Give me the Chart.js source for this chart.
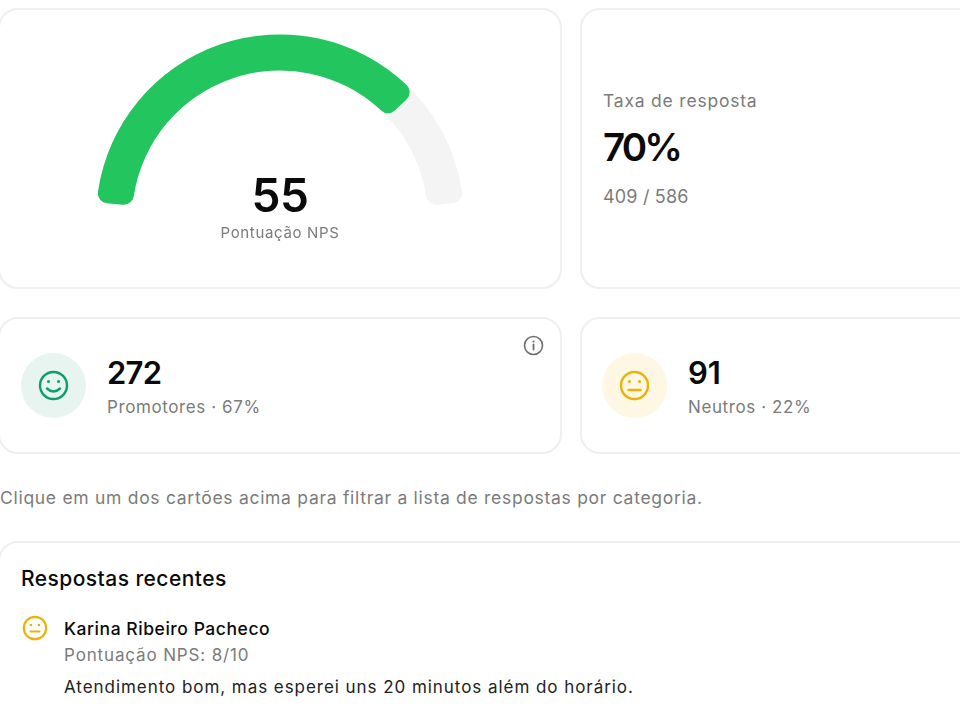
<!DOCTYPE html>
<html lang="pt-BR"><head><meta charset="utf-8">
<script src="https://cdn.jsdelivr.net/npm/chart.js@4"></script>
<style>
html,body{margin:0;padding:0;background:#fff;width:960px;height:720px;overflow:hidden}
body{position:relative;font-family:Inter,"Noto Sans",sans-serif;color:#0a0a0a}
.card{position:absolute;box-sizing:border-box;border:2px solid #efefef;border-radius:20px;background:#fff}
.t{position:absolute;white-space:nowrap;line-height:1}
.g{color:#7b7b7b}
canvas{position:absolute}
#wrap{position:absolute;left:80px;top:-80px;width:400px;height:400px}
svg{position:absolute}
</style></head><body>
<div class="card" style="left:-2px;top:8px;width:564px;height:281px"></div>
<div class="card" style="left:580px;top:8px;width:420px;height:281px"></div>
<div class="card" style="left:-2px;top:317px;width:564px;height:137px"></div>
<div class="card" style="left:580px;top:317px;width:420px;height:137px"></div>
<div class="card" style="left:-2px;top:541px;width:1000px;height:260px"></div>
<div id="wrap"><canvas id="track" width="400" height="400"></canvas><canvas id="gauge" width="400" height="400"></canvas></div>
<div class="t" id="score" style="left:180px;width:200px;text-align:center;top:172px;font-size:46px;font-weight:600;letter-spacing:-.5px"></div>
<div class="t g" style="left:180px;width:200px;text-align:center;top:225px;font-size:15px;letter-spacing:.65px">Pontuação NPS</div>
<div class="t g" style="left:603px;top:92px;font-size:17.5px;letter-spacing:.79px">Taxa de resposta</div>
<div class="t" style="left:603px;top:128px;font-size:38.5px;font-weight:600;letter-spacing:-2.9px">70%</div>
<div class="t g" style="left:603px;top:188px;font-size:18px;letter-spacing:.17px">409 / 586</div>
<svg style="left:21px;top:353px" width="65" height="65" viewBox="0 0 65 65"><circle cx="32.5" cy="32.5" r="32.5" fill="#e7f4f0"/><circle cx="32.5" cy="32.5" r="13.5" fill="none" stroke="#0f9d6b" stroke-width="2.4"/><circle cx="27.5" cy="28.5" r="1.5" fill="#0f9d6b"/><circle cx="37.5" cy="28.5" r="1.5" fill="#0f9d6b"/><path d="M26 35.5q6.500 6 13 0" fill="none" stroke="#0f9d6b" stroke-width="2.4" stroke-linecap="round"/></svg>
<div class="t" style="left:107px;top:357px;font-size:31px;font-weight:600;letter-spacing:-.7px">272</div>
<div class="t g" style="left:107px;top:399px;font-size:17px;letter-spacing:.6px">Promotores · 67%</div>
<svg style="left:522px;top:334px" width="23" height="23" viewBox="0 0 23 23"><circle cx="11.500" cy="11.500" r="9" fill="none" stroke="#6f6f6f" stroke-width="1.600"/><path d="M11.500 10.500v5" stroke="#6f6f6f" stroke-width="1.800" stroke-linecap="round"/><circle cx="11.500" cy="7.500" r="1.100" fill="#6f6f6f"/></svg>
<svg style="left:602px;top:353px" width="65" height="65" viewBox="0 0 65 65"><circle cx="32.500" cy="32.500" r="32.500" fill="#fdf7e3"/><circle cx="32.500" cy="32.500" r="13.500" fill="none" stroke="#eab308" stroke-width="2.400"/><circle cx="27.500" cy="28.500" r="1.500" fill="#eab308"/><circle cx="37.500" cy="28.500" r="1.500" fill="#eab308"/><path d="M26.500 37h12" stroke="#eab308" stroke-width="2.400" stroke-linecap="round"/></svg>
<div class="t" style="left:688px;top:357px;font-size:31px;font-weight:600">91</div>
<div class="t g" style="left:688px;top:399px;font-size:17px;letter-spacing:.6px">Neutros · 22%</div>
<div class="t g" style="left:0;top:489px;font-size:17.5px;letter-spacing:.71px">Clique em um dos cartões acima para filtrar a lista de respostas por categoria.</div>
<div class="t" style="left:21px;top:568px;font-size:21px;font-weight:500;letter-spacing:.44px">Respostas recentes</div>
<svg style="left:22px;top:615px" width="26" height="26" viewBox="0 0 26 26"><circle cx="13" cy="13" r="11.200" fill="none" stroke="#eab308" stroke-width="2.200"/><circle cx="9" cy="10" r="1.300" fill="#eab308"/><circle cx="17" cy="10" r="1.300" fill="#eab308"/><path d="M8.500 16.500h9" stroke="#eab308" stroke-width="2.200" stroke-linecap="round"/></svg>
<div class="t" style="left:64px;top:620px;font-size:17.5px;font-weight:500;letter-spacing:.55px">Karina Ribeiro Pacheco</div>
<div class="t g" style="left:64px;top:647px;font-size:17px;letter-spacing:.86px">Pontuação NPS: 8/10</div>
<div class="t" style="left:64px;top:679px;font-size:17px;letter-spacing:.95px;color:#222">Atendimento bom, mas esperei uns 20 minutos além do horário.</div>
<script>
const scoreValue = 55;
const scoreMin = -100;
const scoreMax = 100;
const filledPart = [155];
const emptyPart = [45];
const gaugeColors = ['#22c55e', 'transparent'];
const trackColor = ['#f4f4f4'];
const gaugeLabels = ['NPS', 'Restante'];
document.getElementById('score').textContent = scoreValue;
function gaugeOptions() {
  return {
    responsive: false, animation: false, rotation: -85, circumference: 170,
    cutout: '80.4%', radius: 184, layout: {padding: 0},
    plugins: {legend: {display: false}, tooltip: {enabled: false}}
  };
}
new Chart(document.getElementById('track'), {
  type: 'doughnut',
  data: {labels: ['Faixa'], datasets: [{data: [scoreMax - scoreMin], backgroundColor: trackColor, borderWidth: 0, borderRadius: 10}]},
  options: gaugeOptions()
});
new Chart(document.getElementById('gauge'), {
  type: 'doughnut',
  data: {labels: gaugeLabels, datasets: [{data: [filledPart[0], emptyPart[0]], backgroundColor: gaugeColors, borderWidth: 0, borderRadius: 10}]},
  options: gaugeOptions()
});
</script>
</body></html>
